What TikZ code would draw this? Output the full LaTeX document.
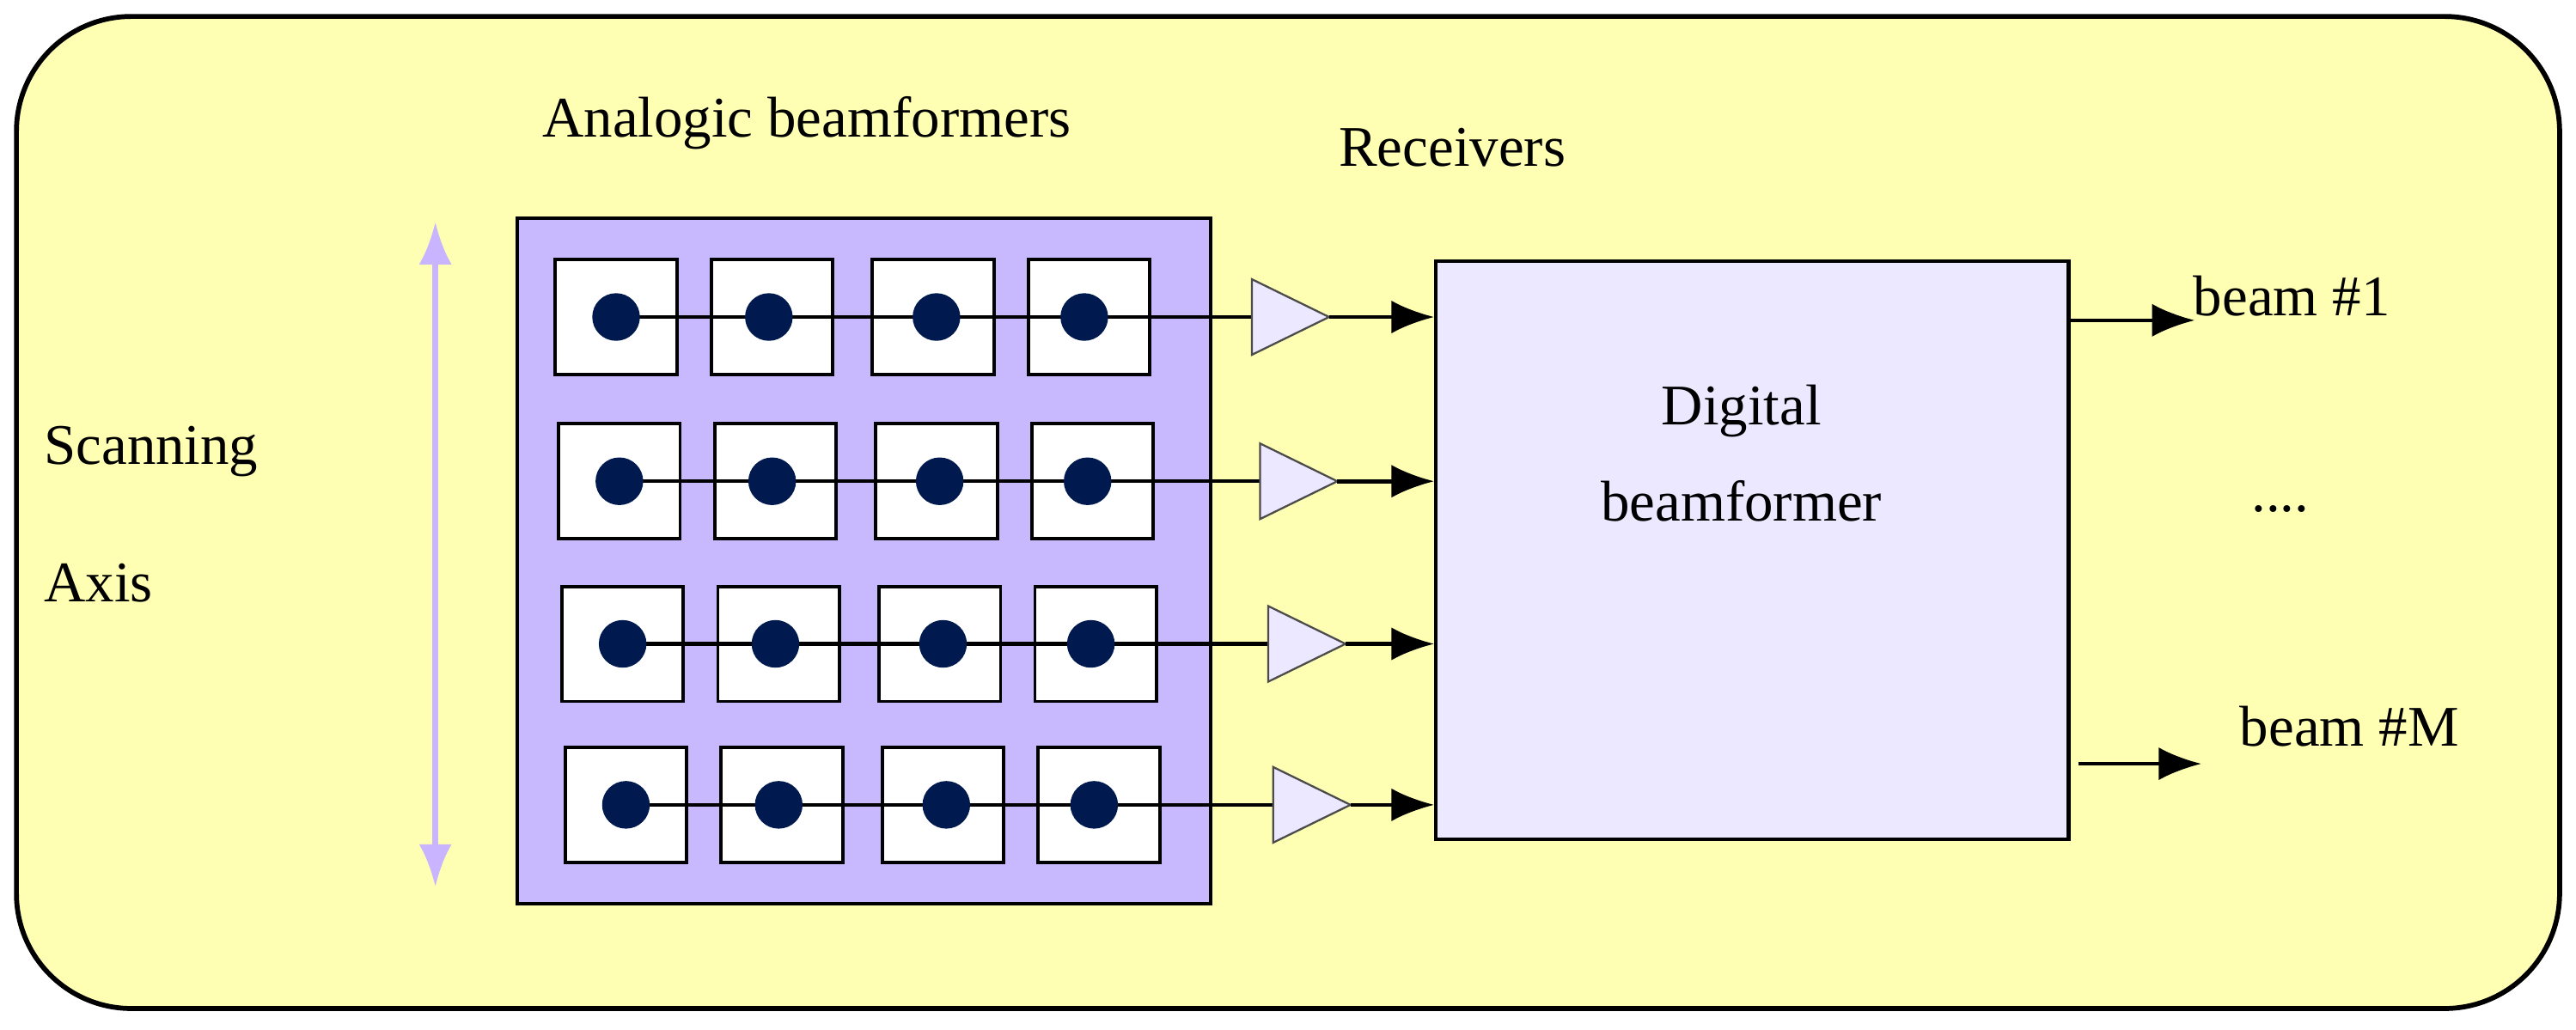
\documentclass[tikz,border=0pt]{standalone}
\usepackage{fontspec}
\setmainfont{Liberation Serif}
\usetikzlibrary{arrows.meta}
\definecolor{bgy}{RGB}{255,255,180}
\definecolor{lav}{RGB}{200,185,255}
\definecolor{lavl}{RGB}{236,232,255}
\definecolor{navy}{RGB}{0,26,80}
\definecolor{axis}{RGB}{200,180,255}
\begin{document}
\begin{tikzpicture}[x=1pt,y=-1pt,
  txt/.style={font=\fontsize{35}{40}\selectfont,inner sep=0pt},
  cell/.style={draw=black,fill=white,line width=2pt,minimum width=74pt,minimum height=70pt,inner sep=0pt},
  dot/.style={circle,fill=navy,minimum size=29pt,inner sep=0pt},
  amp/.style={draw=black!70,fill=lavl,line width=1.2pt},
  arr/.style={-{Latex[length=26pt,width=20pt]},line width=2.4pt}]
\useasboundingbox (0,0) rectangle (1568,627);
\draw[fill=bgy,line width=3pt,rounded corners=70pt] (10,10) rectangle (1558,614);
\node[txt] (t1) at (491,75) {Analogic beamformers};
\node[txt] (t2) at (884,90) {Receivers};
\node[txt] (t3) at (92,275) {Scanning};
\node[txt] (t4) at (60,355) {Axis};
\draw[draw=axis,line width=3.5pt,{Latex[length=26pt,width=20pt]}-{Latex[length=26pt,width=20pt]}] (265,135) -- (265,540);
\draw[fill=lav,line width=2.2pt] (315,133) rectangle (737,550);
\node[draw=black,fill=lavl,line width=2.2pt,minimum width=385pt,minimum height=352pt,anchor=north west] (dig) at (873,158) {};
\node[txt] (d1) at (1060,250) {Digital};
\node[txt] (d2) at (1060,305) {beamformer};
\foreach \r/\y/\dx/\ax in {1/193/0/762,2/293/2/767,3/392/4/772,4/490/6/775}{
  \foreach \c/\x in {1/375,2/470,3/568,4/663}{
    \node[cell] (c\r\c) at (\x+\dx,\y) {};
  }
  \coordinate (s\r) at (375+\dx,\y);
  \draw[line width=2.2pt] (s\r) -- (\ax,\y);
  \foreach \c/\x in {1/375,2/468,3/570,4/660}{
    \node[dot] (p\r\c) at (\x+\dx,\y) {};
  }
  \draw[amp] (\ax,\y-23) -- (\ax+47,\y) -- (\ax,\y+23) -- cycle;
  \coordinate (a\r) at (\ax+47,\y);
  \draw[arr] (a\r) -- (dig.west |- a\r);
}
\coordinate (o1) at (1258,195);
\coordinate (o2) at (1265,465);
\draw[arr] (o1) -- ++(78,0) coordinate (e1);
\draw[arr] (o2) -- ++(75,0) coordinate (e2);
\node[txt] (b1) at (1395,180) {beam \#1};
\node[txt] (b2) at (1388,310) {....};
\node[txt] (b3) at (1430,442) {beam \#M};
\end{tikzpicture}
\end{document}
